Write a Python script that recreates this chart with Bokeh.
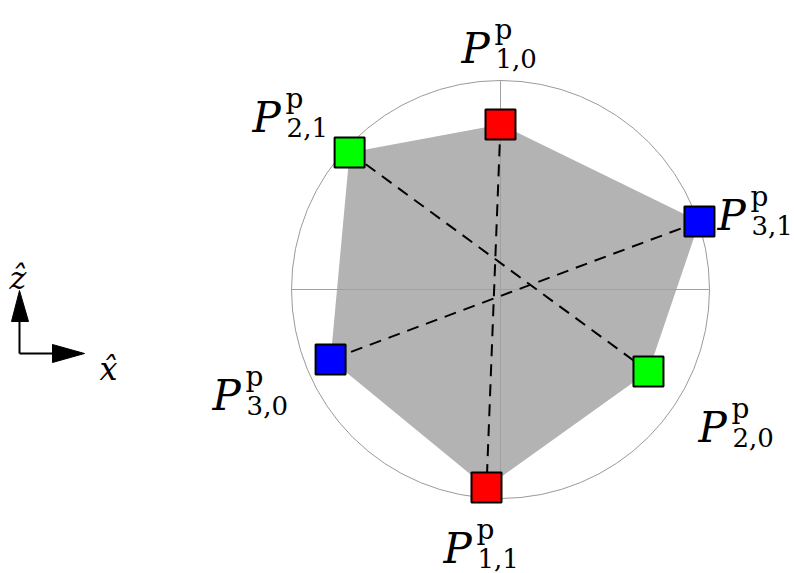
from bokeh.plotting import figure
from bokeh.models import Range1d, ColumnDataSource
from bokeh.core.properties import value
from bokeh.embed import file_html
from bokeh.resources import INLINE

# ---- data (unit circle coordinates, x to the right, z up) ----
names = ["1,0", "3,1", "2,0", "1,1", "3,0", "2,1"]
px_x = [0.000, 0.952, 0.708, -0.067, -0.813, -0.722]
px_z = [0.790, 0.325, -0.392, -0.947, -0.335, 0.656]
colors = ["#ff0000", "#0000ff", "#00ff00", "#ff0000", "#0000ff", "#00ff00"]
pairs = [("1,0", "1,1"), ("2,1", "2,0"), ("3,1", "3,0")]

# ---- layout constants ----
W, H = 794, 573
CX, CY, S = 500, 289, 209.0  # pixel centre and pixels per unit


def to_data(X, Y):
    return (X - CX) / S, (CY - Y) / S


x0, y1 = to_data(0, 0)
x1, y0 = to_data(W, H)

p = figure(width=W, height=H, x_range=Range1d(x0, x1), y_range=Range1d(y0, y1),
           output_backend="svg", toolbar_location=None,
           x_axis_type=None, y_axis_type=None, min_border=0)
p.grid.visible = False
p.outline_line_color = None
p.background_fill_color = "white"

# grey polygon
p.patch(px_x, px_z, fill_color="#b3b3b3", line_color=None)

# circle and cross
p.circle(x=[0], y=[0], radius=1, fill_color=None, line_color="#9a9a9a", line_width=1)
p.segment(x0=[-1, 0], y0=[0, -1], x1=[1, 0], y1=[0, 1], line_color="#a0a0a0", line_width=1)

# dashed connectors
idx = {n: i for i, n in enumerate(names)}
p.segment(x0=[px_x[idx[a]] for a, b in pairs], y0=[px_z[idx[a]] for a, b in pairs],
          x1=[px_x[idx[b]] for a, b in pairs], y1=[px_z[idx[b]] for a, b in pairs],
          line_color="black", line_width=2, line_dash="12 8")

# squares
p.scatter(px_x, px_z, marker="square", size=30, fill_color=colors,
          line_color="black", line_width=2)

# labels: calligraphic P with superscript p and subscript indices
dx = {"1,0": -39, "3,1": 18, "2,0": 50, "1,1": -43, "3,0": -118, "2,1": -97}
dy = {"1,0": -76, "3,1": -6, "2,0": 56, "1,1": 61, "3,0": 36, "2,1": -35}
src = ColumnDataSource(dict(
    x=px_x, y=px_z,
    pdx=[dx[n] for n in names], pdy=[dy[n] for n in names],
    sdx=[dx[n] + 33 for n in names], sdy=[dy[n] - 19 for n in names],
    bdx=[dx[n] + 34 for n in names], bdy=[dy[n] + 10 for n in names],
    P=["P"] * len(names), sup=["p"] * len(names), sub=names,
))
font = value("DejaVu Serif")
p.text(x="x", y="y", text="P", x_offset="pdx", y_offset="pdy", source=src,
       text_font=font, text_font_style="italic", text_font_size="42px",
       text_baseline="alphabetic", text_align="left", text_color="black")
p.text(x="x", y="y", text="sup", x_offset="sdx", y_offset="sdy", source=src,
       text_font=font, text_font_size="28px",
       text_baseline="alphabetic", text_align="left", text_color="black")
p.text(x="x", y="y", text="sub", x_offset="bdx", y_offset="bdy", source=src,
       text_font=font, text_font_size="26px",
       text_baseline="alphabetic", text_align="left", text_color="black")

# axis indicator (x-hat, z-hat)
ox, oy = to_data(19, 353)
vt = to_data(19, 290)
vb1, vb2 = to_data(11, 321), to_data(28, 321)
ht = to_data(84, 353)
hb1, hb2 = to_data(52, 344), to_data(52, 362)
p.segment(x0=[ox, ox], y0=[oy, oy], x1=[ox, hb1[0]], y1=[vb1[1], oy],
          line_color="black", line_width=2)
p.patches(xs=[[vt[0], vb1[0], vb2[0]], [ht[0], hb1[0], hb2[0]]],
          ys=[[vt[1], vb1[1], vb2[1]], [ht[1], hb1[1], hb2[1]]],
          fill_color="black", line_color="black")
zx, zy = to_data(9, 277)
xx, xy = to_data(99, 368)
p.text(x=[zx, xx], y=[zy, xy], text=["ẑ", "x̂"], text_font=font,
       text_font_style="italic", text_font_size="32px",
       text_baseline="alphabetic", text_align="left", text_color="black")

open("out.html", "w").write(file_html(p, INLINE))
